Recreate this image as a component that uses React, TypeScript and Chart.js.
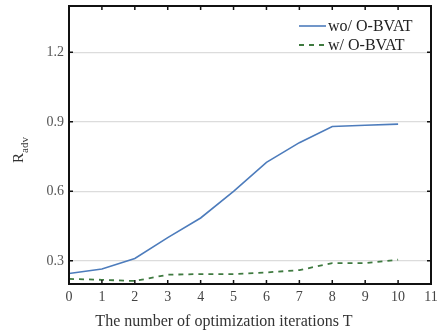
import React, { useEffect, useRef } from "react";
import { Chart, registerables } from "chart.js";

Chart.register(...registerables);

const iterations = [0, 1, 2, 3, 4, 5, 6, 7, 8, 9, 10];
const woOBVAT = [0.245, 0.265, 0.31, 0.40, 0.485, 0.60, 0.725, 0.81, 0.88, 0.885, 0.89];
const wOBVAT = [0.222, 0.218, 0.213, 0.24, 0.243, 0.243, 0.25, 0.26, 0.29, 0.29, 0.305];
const seriesLabels = ["wo/ O-BVAT", "w/ O-BVAT"];
const xTicks = [0, 1, 2, 3, 4, 5, 6, 7, 8, 9, 10, 11];
const yTicks = [0.3, 0.6, 0.9, 1.2];
const xTitle = "The number of optimization iterations T";

const SERIF = "'Liberation Serif', 'DejaVu Serif', serif";
const BLUE = "#4d7cbc";
const GREEN = "#3f7a40";

const framePlugin = {
  id: "frame",
  afterDraw(chart: any) {
    const { ctx, chartArea: a, scales } = chart;
    const x = scales.x;
    const y = scales.y;
    ctx.save();
    ctx.strokeStyle = "#111";
    ctx.lineWidth = 2;
    ctx.strokeRect(a.left, a.top, a.right - a.left, a.bottom - a.top);
    ctx.lineWidth = 1.5;
    const tl = 4;
    xTicks.forEach((v) => {
      const px = x.getPixelForValue(v);
      ctx.beginPath();
      ctx.moveTo(px, a.bottom);
      ctx.lineTo(px, a.bottom - tl);
      ctx.moveTo(px, a.top);
      ctx.lineTo(px, a.top + tl);
      ctx.stroke();
    });
    yTicks.forEach((v) => {
      const py = y.getPixelForValue(v);
      ctx.beginPath();
      ctx.moveTo(a.left, py);
      ctx.lineTo(a.left + tl, py);
      ctx.moveTo(a.right, py);
      ctx.lineTo(a.right - tl, py);
      ctx.stroke();
    });
    const ds = chart.data.datasets;
    const lx0 = a.right - 132;
    const lx1 = a.right - 105;
    const tx = a.right - 103;
    ctx.font = "16px " + SERIF;
    ctx.textBaseline = "middle";
    ctx.textAlign = "left";
    ds.forEach((d: any, i: number) => {
      const ly = a.top + 20 + i * 19;
      ctx.strokeStyle = d.borderColor;
      ctx.lineWidth = d.borderWidth;
      ctx.setLineDash(d.borderDash || []);
      ctx.beginPath();
      ctx.moveTo(lx0, ly);
      ctx.lineTo(lx1, ly);
      ctx.stroke();
      ctx.setLineDash([]);
      ctx.fillStyle = "#222";
      ctx.fillText(d.label, tx, ly + 1);
    });
    // x title
    ctx.font = "16px " + SERIF;
    ctx.textAlign = "center";
    ctx.textBaseline = "alphabetic";
    ctx.fillStyle = "#333";
    ctx.fillText(xTitle, 224, 326);
    // y title
    ctx.textAlign = "left";
    ctx.translate(19, 150);
    ctx.rotate(-Math.PI / 2);
    ctx.font = "15px " + SERIF;
    const wR = ctx.measureText("R").width;
    ctx.font = "11px " + SERIF;
    const wS = ctx.measureText("adv").width;
    const start = -(wR + wS) / 2;
    ctx.font = "15px " + SERIF;
    ctx.fillText("R", start, 4);
    ctx.font = "11px " + SERIF;
    ctx.fillText("adv", start + wR, 9);
    ctx.restore();
  },
};

export default function App() {
  const ref = useRef<HTMLCanvasElement | null>(null);
  useEffect(() => {
    if (!ref.current) return;
    const chart = new Chart(ref.current, {
      type: "line",
      data: {
        datasets: [
          {
            label: seriesLabels[0],
            data: iterations.map((x, i) => ({ x, y: woOBVAT[i] })),
            borderColor: BLUE,
            borderWidth: 1.6,
            pointRadius: 0,
            tension: 0,
            fill: false,
          },
          {
            label: seriesLabels[1],
            data: iterations.map((x, i) => ({ x, y: wOBVAT[i] })),
            borderColor: GREEN,
            borderWidth: 1.8,
            borderDash: [5, 5],
            pointRadius: 0,
            tension: 0,
            fill: false,
          },
        ],
      },
      options: {
        animation: false,
        responsive: false,
        maintainAspectRatio: false,
        layout: { padding: { left: 0, right: 9, top: 6, bottom: 0 } },
        plugins: { legend: { display: false }, tooltip: { enabled: false } },
        scales: {
          x: {
            type: "linear",
            min: 0,
            max: 11,
            afterBuildTicks: (s: any) => {
              s.ticks = xTicks.map((v) => ({ value: v }));
            },
            afterFit: (s: any) => {
              s.height = 46;
              s.paddingLeft = 0;
              s.paddingRight = 0;
            },
            grid: { display: false, drawTicks: false },
            border: { display: false },
            ticks: {
              padding: 5,
              color: "#444",
              font: { family: SERIF, size: 14 },
              maxRotation: 0,
              autoSkip: false,
            },
          },
          y: {
            type: "linear",
            min: 0.2,
            max: 1.4,
            afterBuildTicks: (s: any) => {
              s.ticks = yTicks.map((v) => ({ value: v }));
            },
            afterFit: (s: any) => {
              s.width = 69;
              s.paddingTop = 0;
              s.paddingBottom = 0;
            },
            grid: { color: "#dcdcdc", lineWidth: 1.2, drawTicks: false },
            border: { display: false },
            ticks: {
              padding: 5,
              color: "#555",
              font: { family: SERIF, size: 14 },
              callback: (v: any) => Number(v).toFixed(1),
            },
          },
        },
      },
      plugins: [framePlugin],
    } as any);
    return () => chart.destroy();
  }, []);
  return (
    <div style={{ position: "absolute", left: 0, top: 0, width: 440, height: 330, background: "#fff" }}>
      <canvas ref={ref} width={440} height={330} style={{ width: 440, height: 330 }} />
    </div>
  );
}
